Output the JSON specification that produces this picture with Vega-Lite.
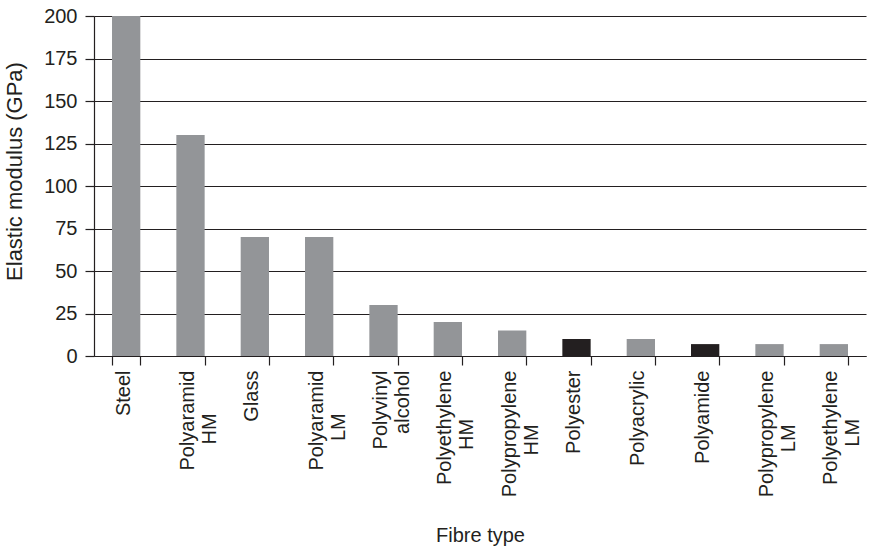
{
  "$schema": "https://vega.github.io/schema/vega-lite/v6.json",
  "autosize": "none",
  "padding": {"left": 94, "top": 16, "right": 3, "bottom": 192},
  "width": 772,
  "height": 340,
  "background": "white",
  "config": {
    "view": {"stroke": null},
    "font": "Liberation Sans",
    "axis": {"labelFont": "Liberation Sans", "titleFont": "Liberation Sans", "labelColor": "#231f20", "titleColor": "#231f20", "titleFontWeight": "normal"}
  },
  "data": {
    "values": [
      {"fibre": "Steel", "modulus": 200},
      {"fibre": "Polyaramid HM", "modulus": 130},
      {"fibre": "Glass", "modulus": 70},
      {"fibre": "Polyaramid LM", "modulus": 70},
      {"fibre": "Polyvinyl alcohol", "modulus": 30},
      {"fibre": "Polyethylene HM", "modulus": 20},
      {"fibre": "Polypropylene HM", "modulus": 15},
      {"fibre": "Polyester", "modulus": 10},
      {"fibre": "Polyacrylic", "modulus": 10},
      {"fibre": "Polyamide", "modulus": 7},
      {"fibre": "Polypropylene LM", "modulus": 7},
      {"fibre": "Polyethylene LM", "modulus": 7}
    ]
  },
  "mark": {"type": "bar"},
  "encoding": {
    "x": {
      "field": "fibre",
      "type": "nominal",
      "sort": null,
      "scale": {"paddingInner": 0.56, "paddingOuter": 0.28},
      "axis": {
        "title": "Fibre type",
        "titleFontSize": 20,
        "titleY": 185,
        "titleBaseline": "alphabetic",
        "labelAngle": -90,
        "labelAlign": "right",
        "labelBaseline": "middle",
        "labelFontSize": 20,
        "labelLineHeight": 22,
        "labelPadding": 5,
        "labelOffset": -3,
        "labelExpr": "length(split(datum.label, ' ')) == 2 ? [split(datum.label, ' ')[0], (length(split(datum.label, ' ')[0]) - length(split(datum.label, ' ')[1]) < 4) ? split(datum.label, ' ')[1] : split(datum.label, ' ')[1] + substring('\u00a0\u00a0\u00a0\u00a0\u00a0\u00a0\u00a0\u00a0\u00a0\u00a0\u00a0\u00a0', 0, round((5.4 * (length(split(datum.label, ' ')[0]) - length(split(datum.label, ' ')[1])) - 18) / 5.56)) + '\u2800'] : datum.label",
        "tickBand": "extent",
        "tickSize": 9,
        "tickColor": "#231f20",
        "tickWidth": 1.2,
        "domainColor": "#231f20",
        "domainWidth": 1.2,
        "grid": false
      }
    },
    "y": {
      "field": "modulus",
      "type": "quantitative",
      "scale": {"domain": [0, 200], "nice": false},
      "axis": {
        "title": "Elastic modulus (GPa)",
        "titleFontSize": 22,
        "titleX": -68,
        "titleY": 155,
        "titleBaseline": "bottom",
        "values": [0, 25, 50, 75, 100, 125, 150, 175, 200],
        "labelFontSize": 20,
        "labelPadding": 8,
        "tickSize": 9,
        "tickColor": "#231f20",
        "tickWidth": 1.2,
        "domainColor": "#231f20",
        "domainWidth": 1.2,
        "gridColor": "#231f20",
        "gridWidth": 1.2,
        "gridOpacity": 1
      }
    },
    "color": {
      "condition": {"test": "datum.fibre === 'Polyester' || datum.fibre === 'Polyamide'", "value": "#231f20"},
      "value": "#939598"
    }
  }
}
